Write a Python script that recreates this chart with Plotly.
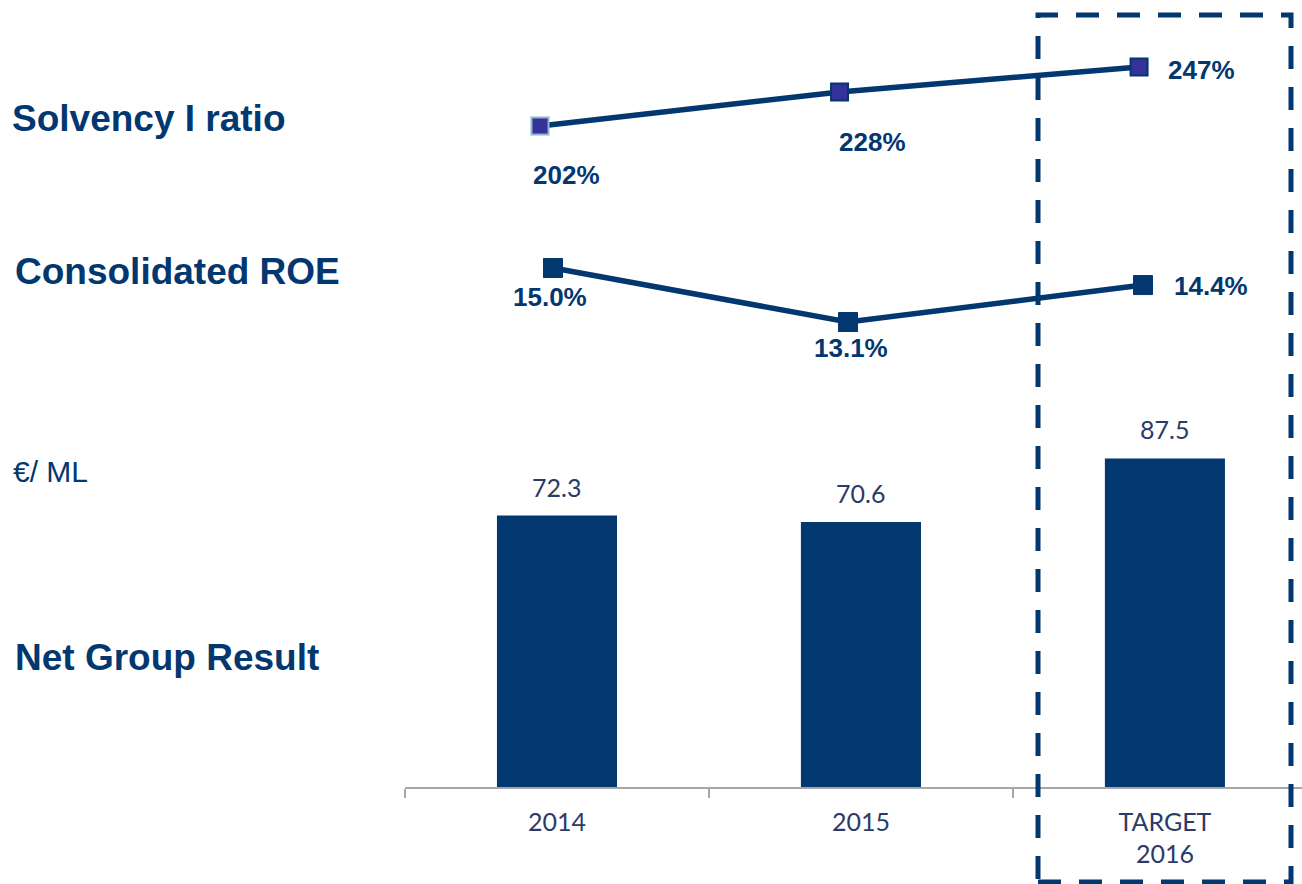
import plotly.graph_objects as go

# ---- data ----
categories = ["2014", "2015", "TARGET<br>2016"]
net_result = [72.3, 70.6, 87.5]
solvency = [202, 228, 247]
roe = [15.0, 13.1, 14.4]
solvency_labels = ["202%", "228%", "247%"]
roe_labels = ["15.0%", "13.1%", "14.4%"]
bar_labels = ["72.3", "70.6", "87.5"]

NAVY = "#03376F"
PURPLE = "#333399"
GREY_TXT = "#2B3B68"
FONT = "Liberation Sans, Arial, sans-serif"
CAL = "Lato, Open Sans, sans-serif"

fig = go.Figure()

fig.add_trace(go.Bar(x=categories, y=net_result, marker_color=NAVY,
                     marker_line_width=0, xaxis="x", yaxis="y",
                     hoverinfo="skip", showlegend=False))

fig.add_trace(go.Scatter(x=categories, y=solvency, xaxis="x2", yaxis="y2",
                         mode="lines+markers",
                         line=dict(color=NAVY, width=5.5),
                         marker=dict(symbol="square", size=17, color=PURPLE,
                                     line=dict(color=["#8FB4CC", NAVY, NAVY], width=2)),
                         showlegend=False, hoverinfo="skip"))

fig.add_trace(go.Scatter(x=categories, y=roe, xaxis="x3", yaxis="y3",
                         mode="lines+markers",
                         line=dict(color=NAVY, width=5.5),
                         marker=dict(symbol="square", size=19, color=NAVY,
                                     line=dict(color=NAVY, width=1)),
                         showlegend=False, hoverinfo="skip"))

idx = list(range(len(categories)))  # category index positions

annotations = []
# solvency labels
sol_off = [(26, -49, "center"), (33, -50, "center"), (27, -3, "left")]
for i, v, t, (dx, dy, xa) in zip(idx, solvency, solvency_labels, sol_off):
    annotations.append(dict(x=i, y=v, xref="x2", yref="y2", text="<b>" + t + "</b>",
                            showarrow=False, xshift=dx, yshift=dy, xanchor=xa,
                            yanchor="middle",
                            font=dict(family=FONT, size=26, color=NAVY)))
roe_off = [(-3, -29, "center"), (3, -26, "center"), (29, -1, "left")]
for i, v, t, (dx, dy, xa) in zip(idx, roe, roe_labels, roe_off):
    annotations.append(dict(x=i, y=v, xref="x3", yref="y3", text="<b>" + t + "</b>",
                            showarrow=False, xshift=dx, yshift=dy, xanchor=xa,
                            yanchor="middle",
                            font=dict(family=FONT, size=26, color=NAVY)))
# bar labels
for i, v, t in zip(idx, net_result, bar_labels):
    annotations.append(dict(x=i, y=v, xref="x", yref="y", text=t, showarrow=False,
                            yanchor="middle", yshift=29,
                            font=dict(family=CAL, size=25, color=GREY_TXT)))

# left labels
left = [("<b>Solvency I ratio</b>", 10, 118, 37),
        ("<b>Consolidated ROE</b>", 13, 271, 37),
        ("€/ ML", 11, 471, 30),
        ("<b>Net Group Result</b>", 13, 657, 37)]
for txt, px, py, sz in left:
    annotations.append(dict(x=(px - 405) / 897, y=(787 - py) / 787, xref="paper",
                            yref="paper", text=txt, showarrow=False,
                            xanchor="left", yanchor="middle",
                            font=dict(family=FONT, size=sz, color=NAVY)))

fig.update_layout(
    width=1302, height=884,
    margin=dict(l=405, r=0, t=0, b=97),
    paper_bgcolor="white", plot_bgcolor="white",
    bargap=0.605,
    xaxis=dict(type="category", range=[-0.5, 2.451], showgrid=False,
               showline=True, linecolor="#A6A6A6", linewidth=1.5,
               ticks="outside", tickson="boundaries", ticklen=9,
               tickcolor="#A6A6A6", tickwidth=1.5,
               tickfont=dict(family=CAL, size=25, color=GREY_TXT),
               ticklabelstandoff=12, zeroline=False),
    yaxis=dict(range=[0, 209.6], visible=False, showgrid=False, zeroline=False),
    xaxis2=dict(type="category", overlaying="x", range=[-0.4508, 2.544],
                visible=False, showgrid=False),
    yaxis2=dict(overlaying="y", range=[-302.2, 298.1], visible=False, showgrid=False),
    xaxis3=dict(type="category", overlaying="x", range=[-0.5017, 2.539],
                visible=False, showgrid=False),
    yaxis3=dict(overlaying="y", range=[-3.26, 24.43], visible=False, showgrid=False),
    annotations=annotations,
    shapes=[dict(type="rect", xref="paper", yref="paper",
                 x0=(1038 - 405) / 897, x1=(1291 - 405) / 897,
                 y0=(787 - 882) / 787, y1=(787 - 15) / 787,
                 line=dict(color=NAVY, width=5, dash="23px,18px"),
                 fillcolor="rgba(0,0,0,0)")],
)

fig.write_html("out.html")
